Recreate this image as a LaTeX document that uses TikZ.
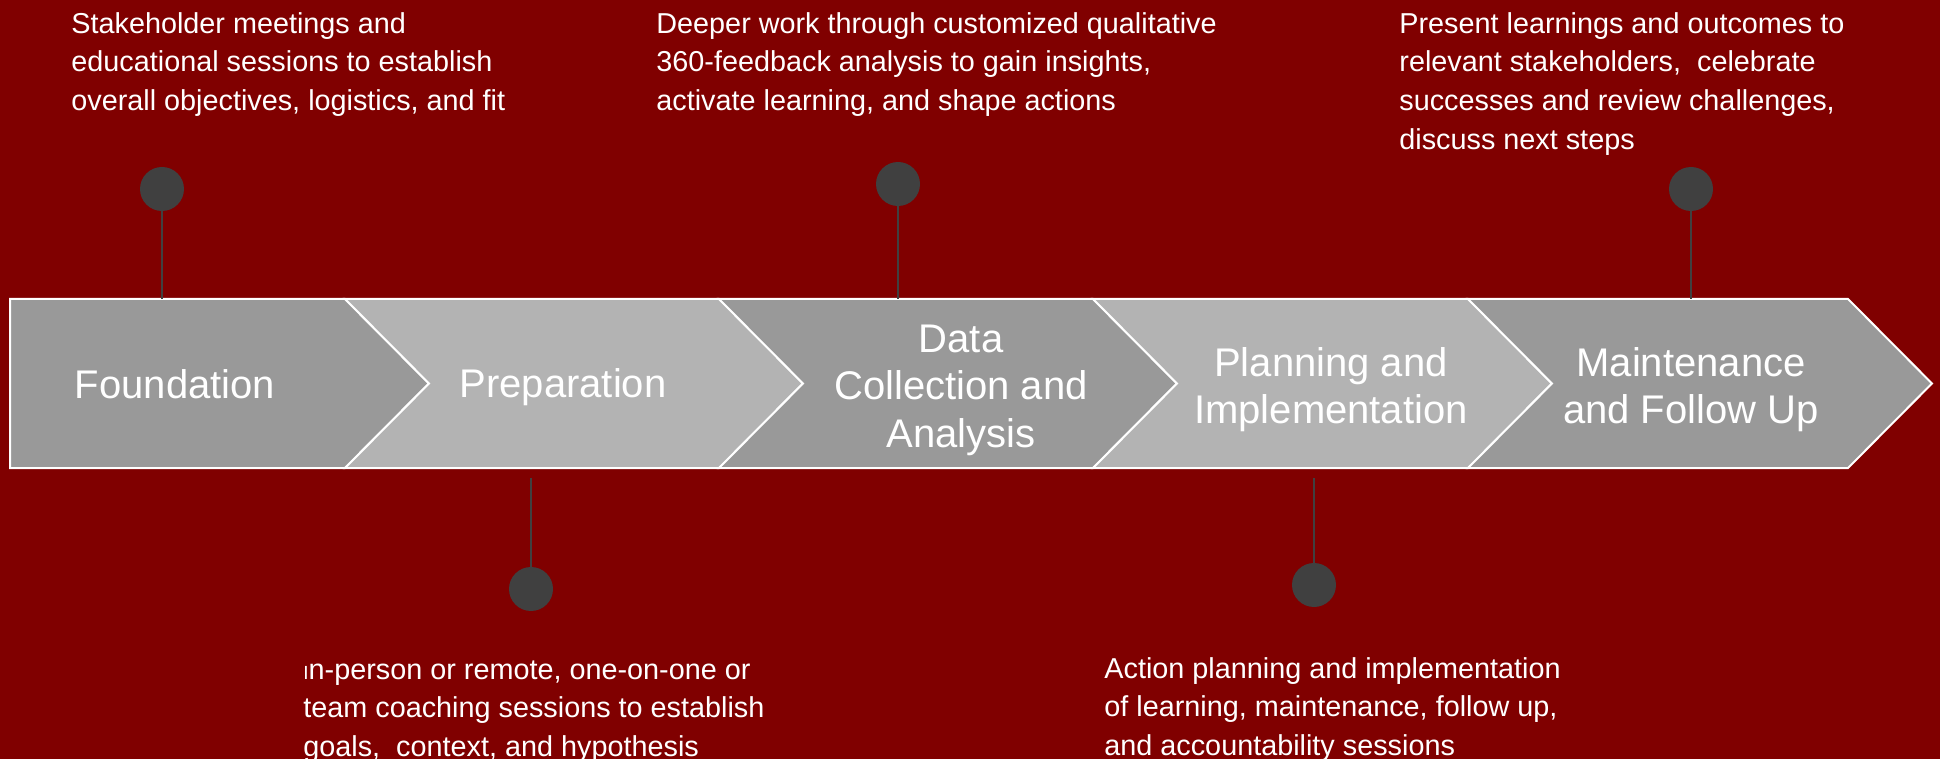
\documentclass[tikz,border=0pt]{standalone}
\usepackage{fontspec}
\setmainfont{Liberation Sans}
\usetikzlibrary{positioning}

\definecolor{bgred}{RGB}{128,0,0}
\definecolor{stagedark}{RGB}{153,153,153}
\definecolor{stagelight}{RGB}{179,179,179}
\definecolor{pingray}{RGB}{64,64,64}

\tikzset{
	stage/.style={draw=white, line width=1pt, line join=miter},
	stagelabel/.style={text=white, align=center, font=\fontsize{20pt}{23.8pt}\selectfont},
	notetext/.style={text=white, align=left, anchor=north west, inner sep=0pt, font=\fontsize{14.4pt}{19.3pt}\selectfont},
	pindot/.style={circle, fill=pingray, minimum size=22pt, inner sep=0pt},
	stem/.style={draw=pingray, line width=1pt}
}

\begin{document}
\begin{tikzpicture}[x=0.5pt, y=-0.5pt]
	\fill[bgred] (0,0) rectangle (1940,759);
	\useasboundingbox (0,0) rectangle (1940,759);

	% chevrons
	\filldraw[stage, fill=stagedark] (10,299) -- (345,299) -- (429,383.5) -- (345,468) -- (10,468) -- cycle;
	\filldraw[stage, fill=stagelight] (345,299) -- (719,299) -- (803,383.5) -- (719,468) -- (345,468) -- (429,383.5) -- cycle;
	\filldraw[stage, fill=stagedark] (719,299) -- (1093,299) -- (1177,383.5) -- (1093,468) -- (719,468) -- (803,383.5) -- cycle;
	\filldraw[stage, fill=stagelight] (1093,299) -- (1468,299) -- (1552,383.5) -- (1468,468) -- (1093,468) -- (1177,383.5) -- cycle;
	\filldraw[stage, fill=stagedark] (1468,299) -- (1848,299) -- (1932,383.5) -- (1848,468) -- (1468,468) -- (1552,383.5) -- cycle;

	\node[stagelabel] (stage1) at (175,384) {Foundation};
	\node[stagelabel] (stage2) at (563,387.5) {Preparation};
	\node[stagelabel] (stage3) at (961,390) {Data\\Collection and\\Analysis};
	\node[stagelabel] (stage4) at (1331,389.5) {Planning and\\Implementation};
	\node[stagelabel] (stage5) at (1691,389.5) {Maintenance\\and Follow Up};

	% pins
	\node[pindot] (pin1) at (162,189) {};
	\node[pindot] (pin2) at (531,589) {};
	\node[pindot] (pin3) at (898,184) {};
	\node[pindot] (pin4) at (1314,585) {};
	\node[pindot] (pin5) at (1691,189) {};

	\coordinate (foot1) at (162,299);
	\coordinate (foot2) at (531,478);
	\coordinate (foot3) at (898,299);
	\coordinate (foot4) at (1314,478);
	\coordinate (foot5) at (1691,299);

	\draw[stem] (pin1) -- (foot1);
	\draw[stem] (foot2) -- (pin2);
	\draw[stem] (pin3) -- (foot3);
	\draw[stem] (foot4) -- (pin4);
	\draw[stem] (pin5) -- (foot5);

	% notes
	\node[notetext] (note1) at (71,12) {Stakeholder meetings and\\educational sessions to establish\\overall objectives, logistics, and fit};
	\node[notetext] (note2) at (656,12) {Deeper work through customized qualitative\\360-feedback analysis to gain insights,\\activate learning, and shape actions};
	\node[notetext] (note3) at (1399,12) {Present learnings and outcomes to\\relevant stakeholders,\ \ celebrate\\successes and review challenges,\\discuss next steps};
	\node[notetext] (note4) at (303,660) {{\fontsize{9.5pt}{9.5pt}\selectfont I}n-person or remote, one-on-one or\\team coaching sessions to establish\\goals,\ \ context, and hypothesis};
	\node[notetext] (note5) at (1104,657) {Action planning and implementation\\of learning, maintenance, follow up,\\and accountability sessions};
\end{tikzpicture}
\end{document}
